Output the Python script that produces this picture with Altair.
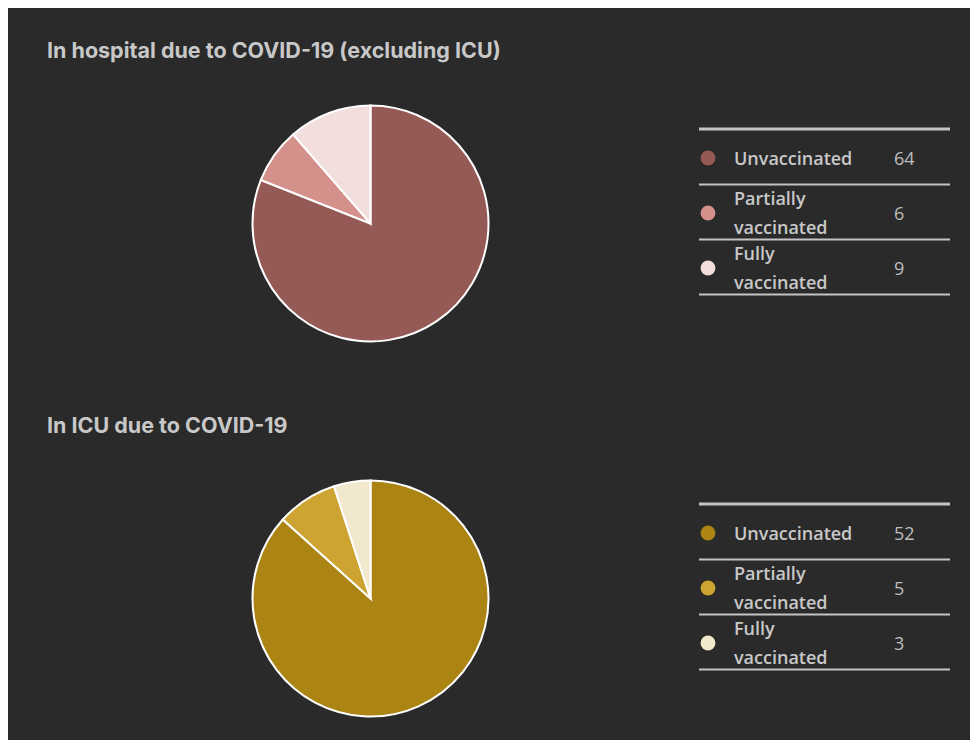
import altair as alt
import pandas as pd

# ---- data ----
statuses = ["Unvaccinated", "Partially vaccinated", "Fully vaccinated"]
hospital_counts = [64, 6, 9]
icu_counts = [52, 5, 3]
titles = ["In hospital due to COVID-19 (excluding ICU)", "In ICU due to COVID-19"]
hospital_colors = ["#955a56", "#d4918b", "#f3dede"]
icu_colors = ["#ab8414", "#cda331", "#f2e8cd"]

BG = "#2a2a2a"
TEXT = "#c8c8c8"
LINE = "#c4c4c4"


def panel(title, counts, colors, height):
    df = pd.DataFrame({"status": statuses, "count": counts, "idx": list(range(len(statuses)))})
    tdf = pd.DataFrame({"title": [title]})

    title_layer = alt.Chart(tdf).mark_text(
        align="left", baseline="alphabetic", fontSize=21.5, fontWeight="bold",
        font="Inter", color=TEXT
    ).encode(x=alt.value(39), y=alt.value(49.5), text="title:N")

    color = alt.Color("status:N", scale=alt.Scale(domain=statuses, range=colors), legend=None)

    pie = alt.Chart(df).mark_arc(radius=118, stroke="white", strokeWidth=2).encode(
        theta=alt.Theta("count:Q", stack=True),
        color=color,
        order=alt.Order("idx:Q"),
        x=alt.value(362.5),
        y=alt.value(215.5),
    )

    yenc = alt.Y("status:N", scale=alt.Scale(type="point", domain=statuses, range=[150, 260], padding=0), axis=None)

    top_rule = alt.Chart(tdf).mark_rule(color=LINE, strokeWidth=3).encode(
        x=alt.value(691), x2=alt.value(942), y=alt.value(121)
    )
    sep = alt.Chart(df).mark_rule(color=LINE, strokeWidth=2, yOffset=26.5).encode(
        y=yenc, x=alt.value(691), x2=alt.value(942)
    )
    dots = alt.Chart(df).mark_point(filled=True, shape="circle", size=220, opacity=1).encode(
        y=yenc, x=alt.value(700), color=color
    )
    label_style = dict(align="left", fontSize=18, fontWeight=600, font="Open Sans",
                       color=TEXT, lineBreak=" ", lineHeight=29)
    labels_single = alt.Chart(df).transform_filter(
        "indexof(datum.status, ' ') < 0"
    ).mark_text(baseline="middle", dy=1.5, **label_style).encode(
        y=yenc, x=alt.value(726), text="status:N")
    labels_multi = alt.Chart(df).transform_filter(
        "indexof(datum.status, ' ') >= 0"
    ).mark_text(baseline="middle", dy=-13.5, **label_style).encode(
        y=yenc, x=alt.value(726), text="status:N")
    values = alt.Chart(df).mark_text(
        align="left", baseline="middle", dy=1.5, fontSize=18, font="Open Sans", color="#bdbdbd"
    ).encode(y=yenc, x=alt.value(886), text="count:Q")

    return alt.layer(title_layer, pie, top_rule, sep, dots, labels_single, labels_multi, values).properties(
        width=962, height=height
    )


chart = alt.vconcat(
    panel(titles[0], hospital_counts, hospital_colors, 375),
    panel(titles[1], icu_counts, icu_colors, 357),
    spacing=0,
).resolve_scale(color="independent").properties(
    background=BG, padding=0
).configure_view(strokeWidth=0)

chart.save("out.html", embed_options={"renderer": "svg", "actions": False})
